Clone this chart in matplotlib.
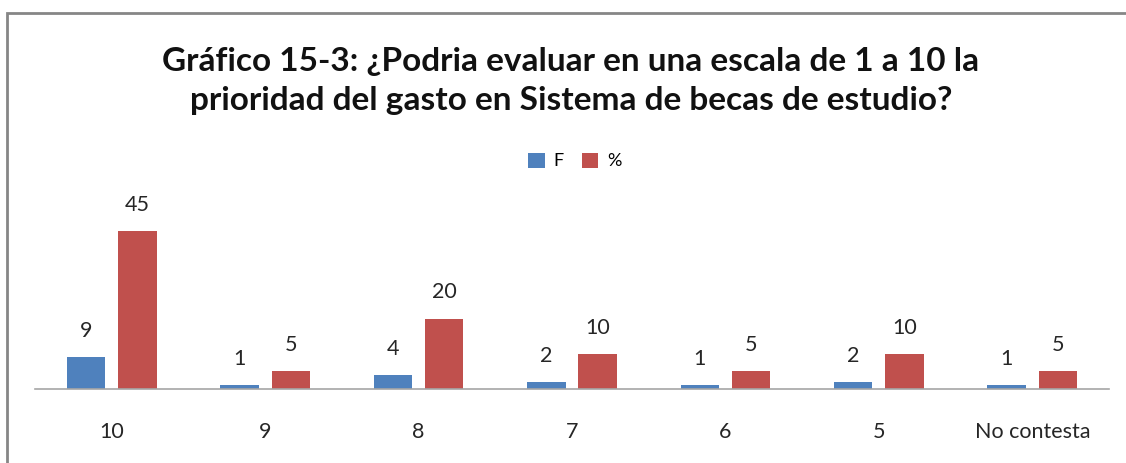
import matplotlib
matplotlib.use("Agg")
import matplotlib.pyplot as plt
import numpy as np
from matplotlib.patches import Rectangle

categories = ["10", "9", "8", "7", "6", "5", "No contesta"]
freq = [9, 1, 4, 2, 1, 2, 1]
pct = [45, 5, 20, 10, 5, 10, 5]
series_names = ["F", "%"]
title = "Gráfico 15-3: ¿Podria evaluar en una escala de 1 a 10 la\nprioridad del gasto en Sistema de becas de estudio?"

W, H = 1126, 463
fig = plt.figure(figsize=(W / 100, H / 100), dpi=100)
plt.rcParams['font.family'] = ['Lato', 'DejaVu Sans']

blue = "#4F81BD"
red = "#C0504D"

ax = fig.add_axes([35 / W, 74 / H, (1109 - 35) / W, 175.5 / H])
x = np.arange(len(categories))
bw = 0.25
off = 0.167
b1 = ax.bar(x - off, freq, bw, color=blue, label=series_names[0])
b2 = ax.bar(x + off, pct, bw, color=red, label=series_names[1])
ax.set_xlim(-0.5, len(categories) - 0.5)
ax.set_ylim(0, 50)
for s in ["top", "right", "left"]:
    ax.spines[s].set_visible(False)
ax.spines["bottom"].set_color("#A6A6A6")
ax.spines["bottom"].set_linewidth(1.2)
ax.set_yticks([])
ax.set_xticks(x)
ax.set_xticklabels(categories, fontsize=15.5, color="#262626")
ax.tick_params(axis="x", length=0, pad=24)

for bars, vals in ((b1, freq), (b2, pct)):
    for r, v in zip(bars, vals):
        ax.annotate(str(v), (r.get_x() + r.get_width() / 2, r.get_height()),
                    xytext=(0, 19), textcoords="offset points",
                    ha="center", va="center", fontsize=15.5, color="#262626")

fig.text(571 / W, 1 - 81 / H, title, ha="center", va="center",
         fontsize=24, fontweight="bold", color="#111111", linespacing=1.38)

leg = fig.legend(handles=[b1, b2], labels=series_names, loc="center",
                 bbox_to_anchor=(575 / W, 1 - 161 / H), ncol=2, frameon=False,
                 fontsize=13, handlelength=0.9, handleheight=0.9,
                 handletextpad=0.5, columnspacing=1.0)

border = Rectangle((7 / W, -0.1), 1.2, 1 - 13 / H + 0.1, transform=fig.transFigure,
                   fill=False, edgecolor="#868686", linewidth=2.0)
fig.patches.append(border)

fig.savefig("out.png", dpi=100, facecolor="white")
